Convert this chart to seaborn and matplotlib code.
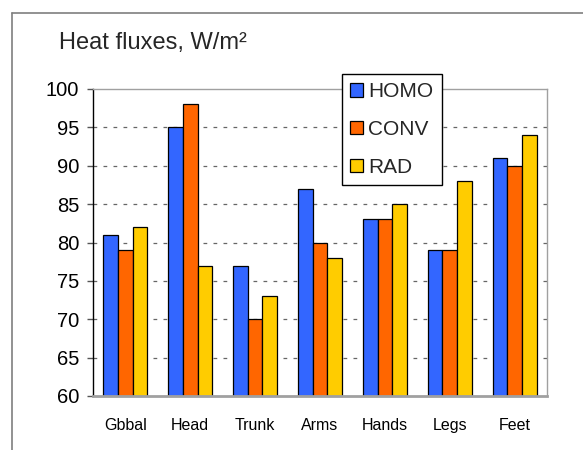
import matplotlib
matplotlib.use("Agg")
import matplotlib.pyplot as plt
from matplotlib.lines import Line2D
import seaborn as sns
import pandas as pd

categories = ["Gbbal", "Head", "Trunk", "Arms", "Hands", "Legs", "Feet"]
homo = [81, 95, 77, 87, 83, 79, 91]
conv = [79, 98, 70, 80, 83, 79, 90]
rad = [82, 77, 73, 78, 85, 88, 94]
series = ["HOMO", "CONV", "RAD"]
colors = ["#3366FF", "#FF6600", "#FFCC00"]
yticks = [60, 65, 70, 75, 80, 85, 90, 95, 100]

rows = []
for name, vals in zip(series, [homo, conv, rad]):
    for c, v in zip(categories, vals):
        rows.append({"cat": c, "series": name, "value": v})
df = pd.DataFrame(rows)

sns.set_theme(style="white")
plt.rcParams["font.family"] = ["Liberation Sans", "DejaVu Sans"]

W, H = 583, 450
fig = plt.figure(figsize=(W / 100, H / 100), dpi=100)
ax = fig.add_axes([93 / W, 1 - 396 / H, (547 - 93) / W, (396 - 89) / H])

sns.barplot(data=df, x="cat", y="value", hue="series", order=categories,
            hue_order=series, palette=colors, width=0.68, ax=ax,
            edgecolor="black", linewidth=0.9, saturation=1, legend=True)

ax.set_ylim(60, 100)
ax.set_yticks(yticks)
ax.set_xlim(-0.5, len(categories) - 0.5)
ax.set_xlabel("")
ax.set_ylabel("")
for y in yticks[1:-1]:
    ax.axhline(y, color="#666666", lw=0.9, ls=(0, (3, 5)), zorder=0)
ax.set_axisbelow(True)

for s in ["top", "right"]:
    ax.spines[s].set_color("#A0A0A0")
    ax.spines[s].set_linewidth(1.0)
ax.spines["left"].set_color("black")
ax.spines["left"].set_linewidth(1.0)
ax.spines["bottom"].set_color("#A0A0A0")
ax.spines["bottom"].set_linewidth(2.0)

ax.tick_params(axis="y", left=True, direction="out", length=4, width=1,
               color="#555555", labelsize=14.5, pad=6, labelcolor="black")
ax.tick_params(axis="x", bottom=False, labelsize=11.5, pad=10, labelcolor="black")

handles, labels = ax.get_legend_handles_labels()
ax.legend(handles, labels, loc="upper left",
          bbox_to_anchor=(342 / W, 1 - 74 / H), bbox_transform=fig.transFigure,
          frameon=True, fancybox=False, edgecolor="black", framealpha=1,
          fontsize=15, handlelength=0.6, handleheight=0.6, handletextpad=0.25,
          labelspacing=0.9, borderpad=0.4, borderaxespad=0)
ax.get_legend().get_frame().set_linewidth(1.0)

fig.text(59 / W, 1 - 43 / H, "Heat fluxes, W/m²", fontsize=17,
         ha="left", va="center")

fig.add_artist(Line2D([12 / W, 12 / W], [0, 1 - 13 / H], transform=fig.transFigure,
                      color="#7F7F7F", lw=1.2))
fig.add_artist(Line2D([12 / W, 1], [1 - 13 / H, 1 - 13 / H], transform=fig.transFigure,
                      color="#7F7F7F", lw=1.2))

fig.savefig("out.png", dpi=100)
